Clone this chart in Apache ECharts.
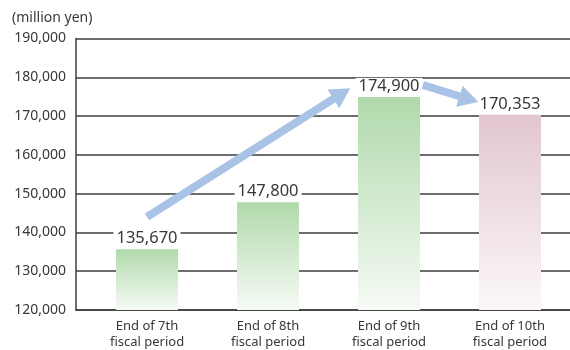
<!DOCTYPE html>
<html>
<head>
<meta charset="utf-8">
<script src="https://cdn.jsdelivr.net/npm/echarts@6/dist/echarts.min.js"></script>
<style>html,body{margin:0;padding:0;background:#fff}#c{width:570px;height:350px}</style>
</head>
<body>
<div id="c"></div>
<script>
const CATEGORIES = ['End of 7th\nfiscal period', 'End of 8th\nfiscal period', 'End of 9th\nfiscal period', 'End of 10th\nfiscal period'];
const VALUES = [135670, 147800, 174900, 170353];
const Y_TICKS = [120000, 130000, 140000, 150000, 160000, 170000, 180000, 190000];
const UNIT_LABEL = '(million yen)';
// arrow annotations in data coordinates: [fromX, fromY, toX, toY]
const ARROW_1 = [0.0, 144000, 1.68, 177200];
const ARROW_2 = [2.28, 178000, 2.74, 173600];

const GREEN = ['#b0d9ab', '#f6fbf5'];
const PINK = ['#e2c6d2', '#fbf7f9'];
const FONT = 'Noto Sans';
const TXT = '#383838';

const chart = echarts.init(document.getElementById('c'));
function grad(c) {
  return new echarts.graphic.LinearGradient(0, 0, 0, 1, [{offset: 0, color: c[0]}, {offset: 1, color: c[1]}]);
}
chart.setOption({
  animation: false,
  title: {text: UNIT_LABEL, left: 12, top: 11, padding: 0,
    textStyle: {fontFamily: FONT, fontSize: 14, fontWeight: 'normal', color: TXT}},
  grid: {left: 76, right: 0, top: 38.5, bottom: 40},
  xAxis: {
    type: 'value', min: -0.587, max: 3.496,
    axisLine: {show: true, onZero: false, lineStyle: {color: '#3c3c3c', width: 1.5}},
    axisTick: {show: false},
    splitLine: {show: false},
    axisLabel: {customValues: [0, 1, 2, 3], formatter: v => CATEGORIES[Math.round(v)],
      fontFamily: FONT, fontSize: 13, color: TXT, lineHeight: 16, margin: 8}
  },
  yAxis: {
    type: 'value', min: Y_TICKS[0], max: Y_TICKS[Y_TICKS.length - 1], interval: 10000,
    axisLine: {show: true, onZero: false, lineStyle: {color: '#3c3c3c', width: 1.5}},
    axisTick: {show: false},
    splitLine: {show: true, lineStyle: {color: '#3c3c3c', width: 1.5}},
    axisLabel: {formatter: v => v.toLocaleString('en-US'), fontFamily: FONT, fontSize: 14, color: TXT, margin: 10}
  },
  series: [
    {
      type: 'bar', barWidth: 62,
      data: VALUES.map((v, i) => ({value: [i, v], itemStyle: {color: grad(i === 3 ? PINK : GREEN)}})),
      label: {show: true, position: 'top', distance: 2,
        formatter: p => p.value[1].toLocaleString('en-US'),
        fontFamily: FONT, fontSize: 16.5, color: TXT, backgroundColor: '#fff', padding: [0, 3, 0, 3]},
      z: 2
    },
    {
      type: 'custom', z: 5, silent: true,
      encode: {x: [0, 2], y: [1, 3]},
      data: [ARROW_1, ARROW_2],
      renderItem: function (params, api) {
        const a = api.coord([api.value(0), api.value(1)]);
        const b = api.coord([api.value(2), api.value(3)]);
        const dx = b[0] - a[0], dy = b[1] - a[1];
        const L = Math.sqrt(dx * dx + dy * dy);
        const ux = dx / L, uy = dy / L, nx = -uy, ny = ux;
        const sw = 4, hw = 11, hl = 20;
        const bx = b[0] - ux * hl, by = b[1] - uy * hl;
        const pts = [
          [a[0] + nx * sw, a[1] + ny * sw],
          [bx + nx * sw, by + ny * sw],
          [bx + nx * hw, by + ny * hw],
          [b[0], b[1]],
          [bx - nx * hw, by - ny * hw],
          [bx - nx * sw, by - ny * sw],
          [a[0] - nx * sw, a[1] - ny * sw]
        ];
        return {type: 'polygon', shape: {points: pts}, style: {fill: '#a9c3e7'}};
      }
    }
  ]
});
</script>
</body>
</html>
